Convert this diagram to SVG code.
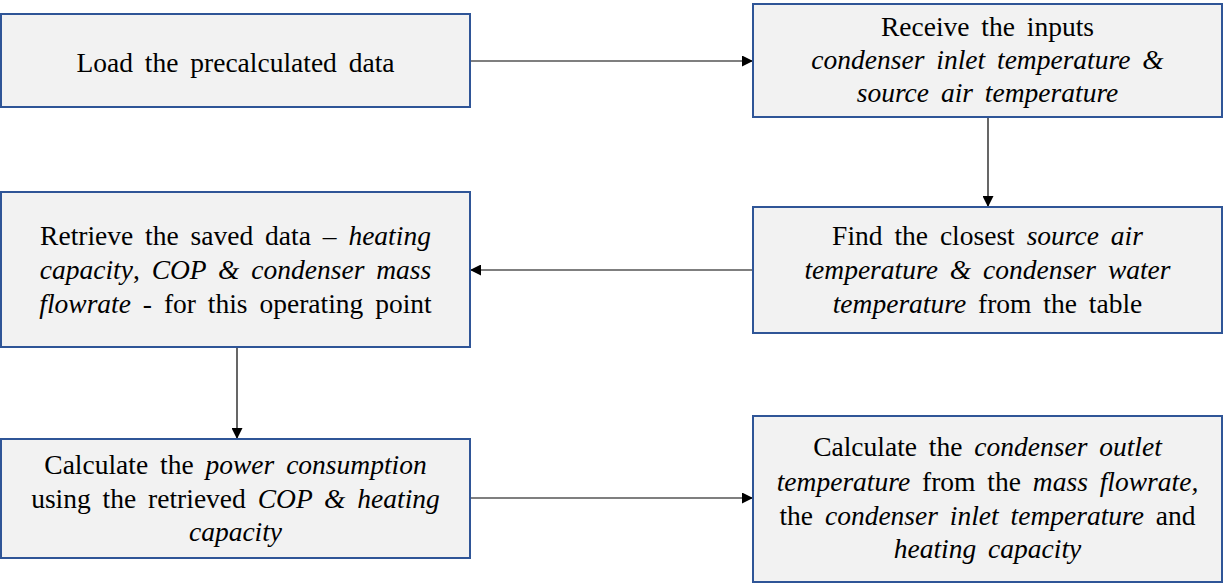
<svg xmlns="http://www.w3.org/2000/svg" width="1225" height="586" viewBox="0 0 1225 586">
<style>
.box{fill:#f2f2f2;stroke:#2f5597;stroke-width:2}
text{font-family:'Liberation Serif','Times New Roman',serif;font-size:27.5px;word-spacing:5px;fill:#000;text-anchor:middle}
.i{font-style:italic}
.c{stroke:#000;stroke-width:1.2;fill:none;marker-end:url(#ah)}
</style>
<defs>
<marker id="ah" viewBox="0 0 10 10" refX="10" refY="5" markerWidth="11" markerHeight="11" markerUnits="userSpaceOnUse" orient="auto">
<path d="M0,0 L10,5 L0,10 z" fill="#000"/>
</marker>
</defs>
<g id="connectors">
<line class="c" x1="470" y1="61" x2="753" y2="61"/>
<line class="c" x1="988" y1="117" x2="988" y2="207"/>
<line class="c" x1="753" y1="270" x2="470" y2="270"/>
<line class="c" x1="237" y1="347" x2="237" y2="439"/>
<line class="c" x1="470" y1="498" x2="753" y2="498"/>
</g>
<g id="n1">
<rect class="box" x="1" y="14" width="469" height="93"/>
<text x="235.5" y="71.5">Load the precalculated data</text>
</g>
<g id="n2">
<rect class="box" x="753" y="4" width="469" height="113"/>
<text x="987.5" y="36">Receive the inputs</text>
<text class="i" x="987.5" y="69">condenser inlet temperature &amp;</text>
<text class="i" x="987.5" y="102">source air temperature</text>
</g>
<g id="n3">
<rect class="box" x="1" y="192" width="469" height="155"/>
<text x="235.5" y="245">Retrieve the saved data – <tspan class="i">heating</tspan></text>
<text x="235.5" y="279"><tspan class="i">capacity</tspan>, <tspan class="i">COP &amp; condenser mass</tspan></text>
<text x="235.5" y="313"><tspan class="i">flowrate</tspan> - for this operating point</text>
</g>
<g id="n4">
<rect class="box" x="753" y="207" width="469" height="126"/>
<text x="987.5" y="245">Find the closest <tspan class="i">source air</tspan></text>
<text class="i" x="987.5" y="279">temperature &amp; condenser water</text>
<text x="987.5" y="313"><tspan class="i">temperature</tspan> from the table</text>
</g>
<g id="n5">
<rect class="box" x="1" y="439" width="469" height="119"/>
<text x="235.5" y="474">Calculate the <tspan class="i">power consumption</tspan></text>
<text x="235.5" y="508">using the retrieved <tspan class="i">COP &amp; heating</tspan></text>
<text class="i" x="235.5" y="541">capacity</text>
</g>
<g id="n6">
<rect class="box" x="753" y="416" width="469" height="166"/>
<text x="987.5" y="456">Calculate the <tspan class="i">condenser outlet</tspan></text>
<text x="987.5" y="491"><tspan class="i">temperature</tspan> from the <tspan class="i">mass flowrate,</tspan></text>
<text x="987.5" y="525">the <tspan class="i">condenser inlet temperature</tspan> and</text>
<text class="i" x="987.5" y="558">heating capacity</text>
</g>
</svg>
